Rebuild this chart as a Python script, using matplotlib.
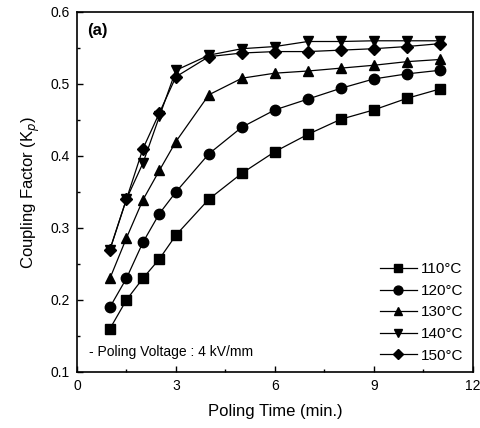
import matplotlib
matplotlib.use("Agg")
import matplotlib.pyplot as plt
from matplotlib.ticker import MultipleLocator

plt.rcParams['font.family'] = ['Liberation Sans', 'DejaVu Sans']

time_min = [1, 1.5, 2, 2.5, 3, 4, 5, 6, 7, 8, 9, 10, 11]
kp_110 = [0.16, 0.20, 0.23, 0.257, 0.29, 0.34, 0.376, 0.406, 0.43, 0.451, 0.464, 0.48, 0.493]
kp_120 = [0.19, 0.23, 0.28, 0.32, 0.35, 0.403, 0.44, 0.464, 0.479, 0.494, 0.507, 0.514, 0.519]
kp_130 = [0.23, 0.286, 0.339, 0.38, 0.42, 0.485, 0.508, 0.515, 0.518, 0.522, 0.526, 0.531, 0.534]
kp_140 = [0.27, 0.34, 0.39, 0.455, 0.519, 0.54, 0.549, 0.552, 0.559, 0.559, 0.56, 0.56, 0.56]
kp_150 = [0.27, 0.34, 0.41, 0.46, 0.51, 0.538, 0.543, 0.545, 0.545, 0.547, 0.549, 0.552, 0.556]

labels = ['110°C', '120°C', '130°C', '140°C', '150°C']
series = [kp_110, kp_120, kp_130, kp_140, kp_150]
markers = ['s', 'o', '^', 'v', 'D']
msizes = [6.5, 7.5, 7.5, 7.5, 6.5]

x_ticks = [0, 3, 6, 9, 12]
x_ticklabels = ['0', '3', '6', '9', '12']
y_ticks = [0.1, 0.2, 0.3, 0.4, 0.5, 0.6]
y_ticklabels = ['0.1', '0.2', '0.3', '0.4', '0.5', '0.6']

fig = plt.figure(figsize=(4.81, 4.28), dpi=100)
ax = fig.add_axes([0.160, 0.131, 0.823, 0.841])

for y, lab, m, ms in zip(series, labels, markers, msizes):
    ax.plot(time_min, y, color='black', lw=0.9, marker=m, ms=ms,
            markerfacecolor='black', markeredgecolor='black', label=lab)

ax.set_xticks(x_ticks)
ax.set_xticklabels(x_ticklabels)
ax.set_yticks(y_ticks)
ax.set_yticklabels(y_ticklabels)
ax.xaxis.set_minor_locator(MultipleLocator(1.5))
ax.yaxis.set_minor_locator(MultipleLocator(0.05))
ax.set_xlim(0, 12)
ax.set_ylim(0.1, 0.6)
ax.tick_params(which='both', direction='in', top=False, right=False, labelsize=10)
ax.tick_params(which='major', length=4, width=1, pad=5)
ax.tick_params(which='minor', length=2.5, width=1)
for s in ax.spines.values():
    s.set_linewidth(1.2)

ax.set_xlabel('Poling Time (min.)', fontsize=12, labelpad=8)
ax.set_ylabel('Coupling Factor (K$_p$)', fontsize=12, labelpad=6)

ax.text(0.025, 0.97, '(a)', transform=ax.transAxes, fontsize=12, fontweight='bold', va='top')
ax.text(0.03, 0.035, '- Poling Voltage : 4 kV/mm', transform=ax.transAxes, fontsize=10, va='bottom')

leg = ax.legend(loc='lower right', frameon=False, fontsize=11, handlelength=2.4,
                handletextpad=0.3, labelspacing=0.5, borderaxespad=0.2, markerscale=0.85)

fig.savefig('out.png', dpi=100)
